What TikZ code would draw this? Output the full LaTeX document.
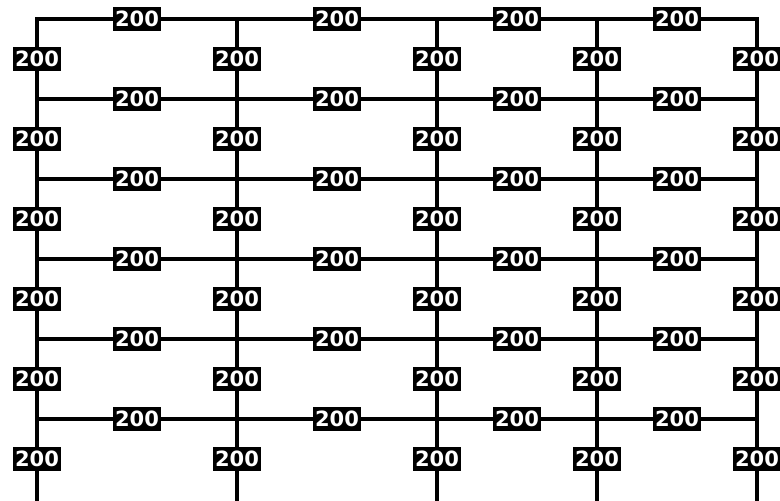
\documentclass[tikz,border=0pt]{standalone}
\usepackage{fontspec}
\setmainfont{DejaVu Sans}
\begin{document}
\begin{tikzpicture}[x=1pt,y=-1pt,
  wire/.style={line width=4pt,line cap=rect,black},
  lbl/.style={fill=black,text=white,inner sep=0pt,minimum width=48pt,minimum height=24pt,
    font=\fontsize{21}{21}\selectfont\bfseries}]
\useasboundingbox (0,0) rectangle (780,501);
% junctions
\foreach \c/\x in {0/37,1/237,2/437,3/597,4/757}{
  \foreach \r in {0,...,5}{
    \coordinate (j-\c-\r) at (\x,{19+80*\r});
  }
  \coordinate (j-\c-6) at (\x,501);
}
% horizontal wires
\foreach \r in {0,...,5}{
  \foreach \c [evaluate=\c as \n using int(\c+1)] in {0,...,3}{
    \draw[wire] (j-\c-\r) -- node[lbl] (h-\c-\r) {200} (j-\n-\r);
  }
}
% vertical wires
\foreach \c in {0,...,4}{
  \foreach \r [evaluate=\r as \n using int(\r+1)] in {0,...,5}{
    \draw[wire] (j-\c-\r) -- node[lbl,pos={\r==5 ? 0.4878 : 0.5}] (v-\c-\r) {200} (j-\c-\n);
  }
}
\end{tikzpicture}
\end{document}
